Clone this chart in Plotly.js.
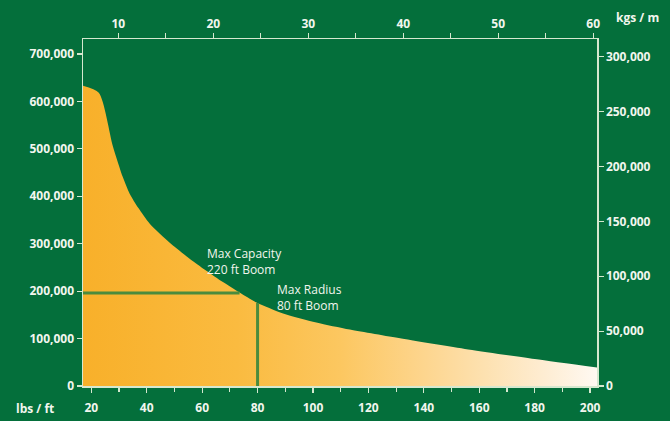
<!DOCTYPE html>
<html>
<head>
<meta charset="utf-8">
<script src="https://cdn.plot.ly/plotly-3.0.1.min.js"></script>
<style>
html,body{margin:0;padding:0;background:#046f3b;}
#chart{width:670px;height:421px;}
</style>
</head>
<body>
<div id="chart"></div>
<script>
// Load chart data: radius (ft) vs capacity (lbs)
const radiusFt = [17, 22.7, 27.8, 31.4, 33.8, 37, 41.1, 48.3, 56.7, 61.5, 67.5, 73.5, 79.6, 89.2, 101.2, 113.3, 131.9, 156, 180, 202.5];
const capacityLbs = [633000, 618000, 505000, 440000, 406000, 375000, 342000, 302000, 263000, 243000, 219000, 197000, 176000, 153000, 134000, 119000, 100000, 77000, 57000, 39000];

// Reference lines
const maxCapX = [17, 73.5];
const maxCapY = [196000, 196000];
const maxRadX = [80, 80];
const maxRadY = [0, 175000];

// Tick labels
const bottomTicks = [20, 40, 60, 80, 100, 120, 140, 160, 180, 200];
const topTicks = [10, 20, 30, 40, 50, 60];
const leftTicks = [0, 100000, 200000, 300000, 400000, 500000, 600000, 700000];
const leftTickText = ['0', '100,000', '200,000', '300,000', '400,000', '500,000', '600,000', '700,000'];
const rightTicks = [0, 50000, 100000, 150000, 200000, 250000, 300000];
const rightTickText = ['0', '50,000', '100,000', '150,000', '200,000', '250,000', '300,000'];

// Annotation texts
const noteCapacity = 'Max Capacity<br>220 ft Boom';
const noteRadius = 'Max Radius<br>80 ft Boom';
const bottomUnit = 'lbs / ft';
const topUnit = 'kgs / m';

const BG = '#046f3b';
const AX = '#d6e8cf';
const TXT = '#f2f6ee';
const LINE = '#4b8b3d';
const tickFont = {family: 'Open Sans, sans-serif', size: 12, color: TXT, weight: 700};
const noteFont = {family: 'Open Sans, sans-serif', size: 12, color: TXT};

const traces = [
  {
    x: radiusFt, y: capacityLbs, type: 'scatter', mode: 'lines',
    line: {width: 0, shape: 'spline', smoothing: 0.7, color: 'rgba(0,0,0,0)'},
    fill: 'tozeroy',
    fillcolor: '#f9b434',
    fillgradient: {type: 'horizontal', colorscale: [
      [0, '#f8b02a'], [0.3, '#fabb40'], [0.5, '#fcc760'], [0.65, '#fdd48a'],
      [0.78, '#fde1b0'], [0.9, '#feedd3'], [1, '#fff9f2']]},
    hoverinfo: 'skip', showlegend: false
  },
  {
    x: maxCapX, y: maxCapY, type: 'scatter', mode: 'lines',
    line: {color: LINE, width: 3}, hoverinfo: 'skip', showlegend: false
  },
  {
    x: maxRadX, y: maxRadY, type: 'scatter', mode: 'lines',
    line: {color: LINE, width: 3}, hoverinfo: 'skip', showlegend: false
  },
  {
    x: [topTicks[0]], y: [rightTicks[0]], xaxis: 'x2', yaxis: 'y2', type: 'scatter', mode: 'markers',
    marker: {opacity: 0}, hoverinfo: 'skip', showlegend: false
  }
];

const fullW = 670 - 83 - 73, fullH = 421 - 39 - 35;

const layout = {
  width: 670, height: 421,
  margin: {l: 83, r: 73, t: 39, b: 35, pad: 0},
  paper_bgcolor: BG, plot_bgcolor: BG,
  showlegend: false,
  xaxis: {
    range: [17, 202.5], tickvals: bottomTicks, ticktext: bottomTicks.map(String),
    ticks: 'outside', ticklen: 5, tickcolor: AX, tickwidth: 1.2,
    minor: {dtick: 10, tick0: 0, ticks: 'outside', ticklen: 4, tickcolor: AX},
    showline: true, linecolor: AX, linewidth: 1.5, showgrid: false, zeroline: false,
    tickfont: tickFont, ticklabelstandoff: 5
  },
  xaxis2: {
    overlaying: 'x', side: 'top', anchor: 'y',
    range: [6.28, 60.4], tickvals: topTicks, ticktext: topTicks.map(String),
    ticks: 'outside', ticklen: 5, tickcolor: AX, tickwidth: 1.2,
    minor: {dtick: 5, tick0: 0, ticks: 'outside', ticklen: 5, tickcolor: AX},
    showline: true, linecolor: AX, linewidth: 1.5, showgrid: false, zeroline: false,
    tickfont: tickFont
  },
  yaxis: {
    range: [0, 731500], tickvals: leftTicks, ticktext: leftTickText,
    ticks: 'outside', ticklen: 5, tickcolor: AX, tickwidth: 1.2,
    showline: true, linecolor: AX, linewidth: 1.5, showgrid: false, zeroline: false,
    tickfont: tickFont
  },
  yaxis2: {
    overlaying: 'y', side: 'right', anchor: 'x',
    range: [0, 316150], tickvals: rightTicks, ticktext: rightTickText,
    ticks: 'outside', ticklen: 5, tickcolor: AX, tickwidth: 1.2,
    showline: true, linecolor: AX, linewidth: 1.5, showgrid: false, zeroline: false,
    tickfont: tickFont
  },
  annotations: [
    {x: 61.2, y: 262000, xref: 'x', yref: 'y', text: noteCapacity, showarrow: false,
     xanchor: 'left', yanchor: 'middle', align: 'left', font: noteFont},
    {x: 86.2, y: 187000, xref: 'x', yref: 'y', text: noteRadius, showarrow: false,
     xanchor: 'left', yanchor: 'middle', align: 'left', font: noteFont},
    {x: (14 - 83) / fullW, y: (421 - 35 - 408) / fullH, xref: 'paper', yref: 'paper', text: bottomUnit,
     showarrow: false, xanchor: 'left', yanchor: 'middle', font: tickFont},
    {x: (661 - 83) / fullW, y: (421 - 35 - 17) / fullH, xref: 'paper', yref: 'paper', text: topUnit,
     showarrow: false, xanchor: 'right', yanchor: 'middle', font: tickFont}
  ]
};

Plotly.newPlot('chart', traces, layout, {displayModeBar: false, staticPlot: true});
</script>
</body>
</html>
